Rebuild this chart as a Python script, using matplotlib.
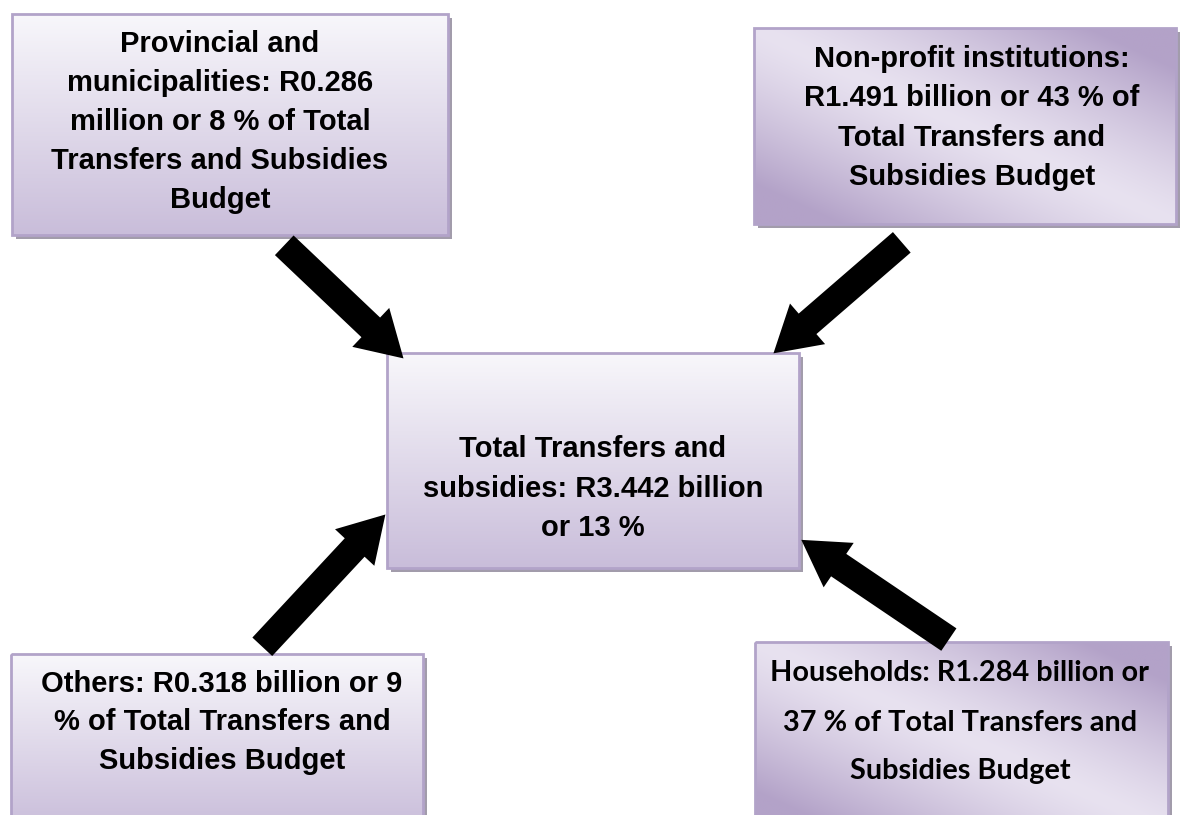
import numpy as np
import matplotlib.pyplot as plt
from matplotlib.patches import Rectangle, FancyArrow
from matplotlib.colors import to_rgb

# text of each box, one list entry per line
tl_lines = ["Provincial and", "municipalities: R0.286", "million or 8 % of Total",
            "Transfers and Subsidies", "Budget"]
tr_lines = ["Non-profit institutions:", "R1.491 billion or 43 % of",
            "Total Transfers and", "Subsidies Budget"]
centre_lines = ["Total Transfers and", "subsidies: R3.442 billion", "or 13 %"]
bl_lines = ["Others: R0.318 billion or 9", "% of Total Transfers and",
            "Subsidies Budget"]
br_lines = ["Households: R1.284 billion or", "37 % of Total Transfers and",
            "Subsidies Budget"]

fig = plt.figure(figsize=(11.8, 8.15), dpi=100)
ax = fig.add_axes([0, 0, 1, 1])


def grad_box(x0, y0, x1, y1, style):
    # shadow
    ax.add_patch(Rectangle((x0 + 4, y0 + 4), x1 - x0, y1 - y0,
                           facecolor="#a29cab", edgecolor="none", zorder=1))
    n = 200
    if style == "vertical":
        t = np.linspace(0, 1, n)[:, None]
        top, bot = np.array(to_rgb("#f8f7fb")), np.array(to_rgb("#c9bdda"))
        img = top[None, None, :] * (1 - t[:, :, None]) + bot[None, None, :] * t[:, :, None]
    else:
        u = np.linspace(0, 1, n)[None, :]
        v = np.linspace(0, 1, n)[:, None]
        s = np.clip(np.abs(u - v) * 1.25, 0, 1) ** 1.3
        light, dark = np.array(to_rgb("#e8e2f0")), np.array(to_rgb("#b3a2c8"))
        img = light[None, None, :] * (1 - s[:, :, None]) + dark[None, None, :] * s[:, :, None]
    ax.imshow(img, extent=(x0, x1, y1, y0), origin="upper", aspect="auto",
              interpolation="bilinear", zorder=2)
    ax.add_patch(Rectangle((x0, y0), x1 - x0, y1 - y0, facecolor="none",
                           edgecolor="#b2a3c9", linewidth=2, zorder=3))


def box_text(lines, xc, baselines, family, size):
    for line, yb in zip(lines, baselines):
        ax.text(xc, yb, line, ha="center", va="baseline", fontsize=size,
                fontweight="bold", family=family, color="black", zorder=5)


grad_box(12, 14, 448, 235, "vertical")
grad_box(754, 28, 1176, 224, "diagonal")
grad_box(387, 353, 799, 568, "vertical")
grad_box(11, 654, 423, 830, "vertical")
grad_box(755, 642, 1168, 830, "diagonal")

arial = ["Liberation Sans", "DejaVu Sans"]
box_text(tl_lines, 220, [52, 91, 130, 169, 208], arial, 21)
box_text(tr_lines, 972, [67, 106, 146, 185], arial, 21)
box_text(centre_lines, 593, [457, 497, 536], arial, 21)
box_text(bl_lines, 222, [692, 730, 769], arial, 21)
box_text(br_lines, 960, [681, 731, 779], ["Lato", "DejaVu Sans"], 20.8)

# arrows (tail -> tip)
arrows = [((285, 246), (402, 357)),
          ((901, 243), (775, 352)),
          ((263, 646), (384, 516)),
          ((948, 639), (803, 541))]
for (xs, ys), (xe, ye) in arrows:
    ax.add_patch(FancyArrow(xs, ys, xe - xs, ye - ys, width=25, head_width=50,
                            head_length=42, length_includes_head=True,
                            facecolor="black", edgecolor="black", linewidth=1.5,
                            zorder=6))

ax.set_xlim(0, 1180)
ax.set_ylim(815, 0)
ax.axis("off")
fig.savefig("out.png", dpi=100, facecolor="white")
